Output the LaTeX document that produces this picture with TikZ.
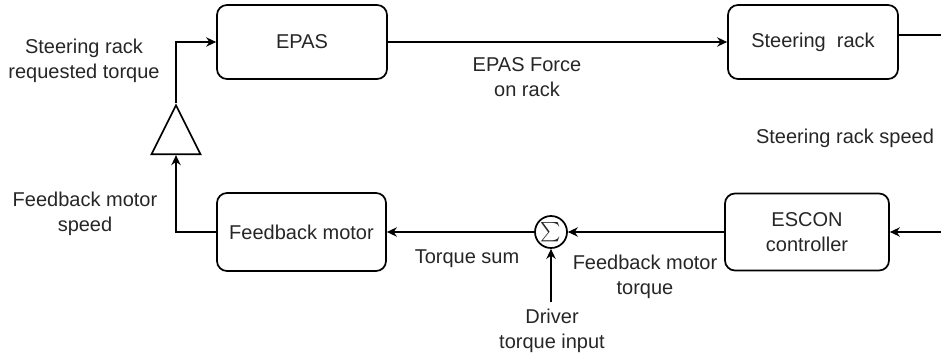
\documentclass[tikz,border=0pt]{standalone}
\usepackage{fontspec}
\usepackage{graphicx}
\setmainfont{Liberation Sans}
\usetikzlibrary{arrows.meta,shapes.geometric}
\begin{document}
\begin{tikzpicture}[x=0.75pt,y=-0.75pt,
  every node/.style={font=\fontsize{15}{18.75}\selectfont, text=black!85},
  blk/.style={draw, line width=1.3pt, rounded corners=7.5pt, align=center, inner sep=0pt},
  lbl/.style={align=center, inner sep=0pt},
  wire/.style={line width=1.3pt},
  arr/.style={wire, -{Stealth[length=7.5pt,width=7pt]}}]
\useasboundingbox (0,0) rectangle (941,356);
% blocks
\node[blk, minimum width=127.5pt, minimum height=55.5pt] (epas) at (302,42) {EPAS};
\node[blk, minimum width=127.5pt, minimum height=55.5pt] (rack) at (813,42) {Steering\ \ rack};
\node[blk, minimum width=126.75pt, minimum height=58.5pt] (fbm) at (301.5,232) {Feedback motor};
\node[blk, minimum width=123pt, minimum height=57.75pt] (escon) at (807,232) {ESCON\\controller};
\node[draw, circle, line width=1.3pt, minimum size=24pt, inner sep=0pt] (sum) at (551,232) {\scalebox{1.45}{$\sum$}};
\node[draw, line width=1.3pt, isosceles triangle, isosceles triangle stretches, shape border rotate=90,
      minimum width=36.75pt, minimum height=36.75pt, inner sep=0pt, anchor=apex] (amp) at (176,103) {};
% free ends
\coordinate (rackout) at (941,35);
\coordinate (esconin) at (941,232);
\coordinate (driverin) at (551,302);
% labels
\node[lbl] (reqtorque) at (84,60.5) {Steering rack\\requested torque};
\node[lbl] (fbspeed) at (85,214) {Feedback motor\\speed};
\node[lbl] (epasforce) at (527,77.5) {EPAS Force\\on rack};
\node[lbl] (rackspeed) at (845,138) {Steering rack speed};
\node[lbl] (torquesum) at (467,259) {Torque sum};
\node[lbl] (fbtorque) at (645,276.5) {Feedback motor\\torque};
\node[lbl] (driver) at (552,330.5) {Driver\\torque input};
% connectors
\draw[arr] (amp.apex) |- (epas.west);
\draw[arr] (epas.east) -- (rack.west);
\draw[wire] (rackout -| rack.east) -- (rackout);
\draw[arr] (esconin) -- (escon.east);
\draw[arr] (escon.west) -- (sum.east);
\draw[arr] (sum.west) -- (fbm.east);
\draw[arr] (driverin) -- (sum.south);
\draw[arr] (fbm.west) -| (amp.south);
\end{tikzpicture}
\end{document}
